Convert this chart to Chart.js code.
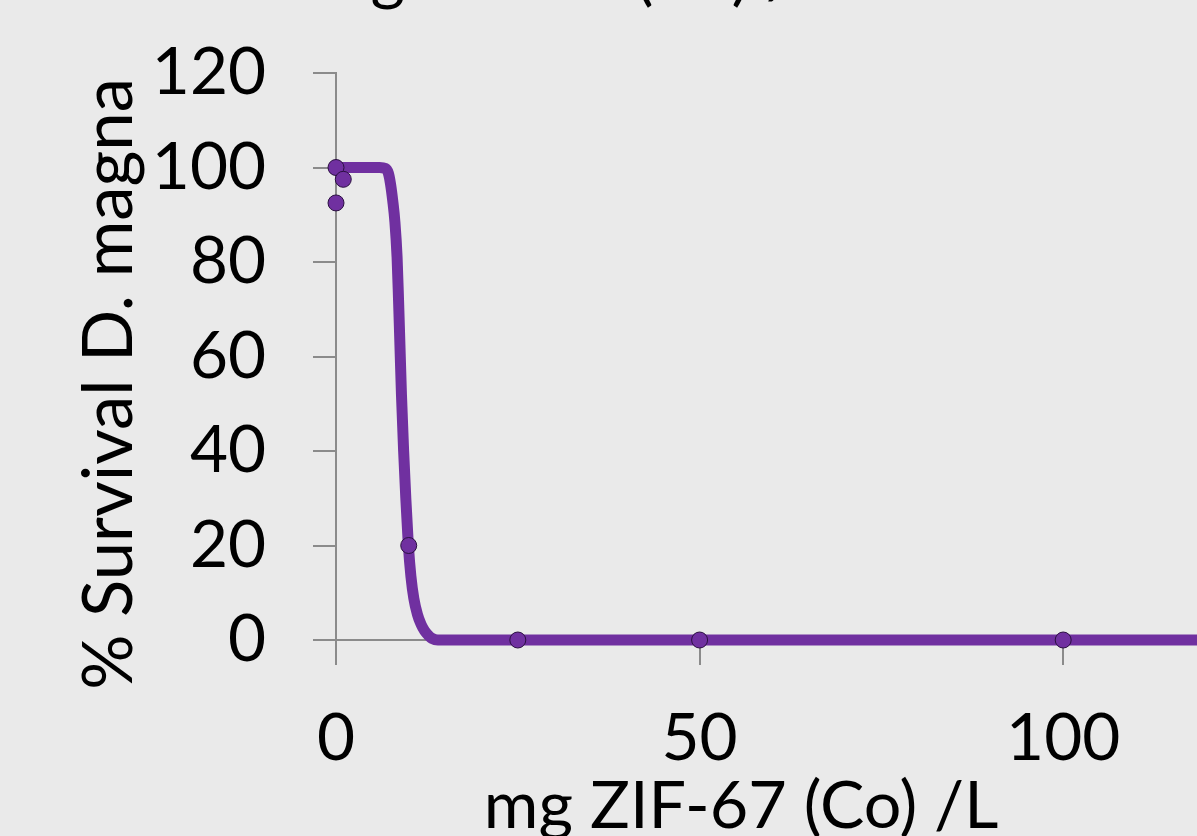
<!DOCTYPE html>
<html>
<head>
<meta charset="utf-8">
<script src="https://cdn.jsdelivr.net/npm/chart.js@4.4.1/dist/chart.umd.min.js"></script>
<style>
html, body { margin: 0; padding: 0; background: #EAEAEA; overflow: hidden; width: 1197px; height: 836px; }
#c { position: absolute; left: 0; display: block; }
</style>
</head>
<body>
<canvas id="c"></canvas>
<script>
// ---------------- data ----------------
const chartTitle = 'mg ZIF-67 (Co) /L';
const xAxisTitle = 'mg ZIF-67 (Co) /L';
const yAxisTitle = '% Survival D. magna';
const xTickValues = [0, 50, 100];
const yTickValues = [0, 20, 40, 60, 80, 100, 120];
const xRange = [0, 118.4];
const yRange = [0, 120];

// observed survival
const obsDose = [0, 0, 1, 10, 25, 50, 100];
const obsSurvival = [100, 92.5, 97.5, 20, 0, 0, 0];

// fitted dose-response curve
const fitDose = [0, 3, 6, 6.8, 7.2, 7.5, 7.8, 8.1, 8.4, 8.6, 8.8, 9, 9.3, 9.6, 9.95, 10.3, 10.7, 11.2, 11.7, 12.2, 12.7, 13.2, 14, 16, 20, 40, 80, 120];
const fitSurvival = [100, 100, 100, 99.8, 98.8, 96.5, 93, 88.5, 81, 72, 62, 52, 40, 30, 20, 13.5, 8.8, 5.4, 3.3, 1.9, 1, 0.35, 0, 0, 0, 0, 0, 0];

// ---------------- styling / layout helpers ----------------
const FAMILY = "Lato, 'Open Sans', sans-serif";
const PURPLE = '#7030A0';
const AXIS = '#8B8B8B';
const mctx = document.createElement('canvas').getContext('2d');
function measure(text, size, baseline, align) {
  mctx.font = size + 'px ' + FAMILY;
  mctx.textBaseline = baseline || 'alphabetic';
  mctx.textAlign = align || 'left';
  return mctx.measureText(text);
}
function fitSize(text, ink) {
  const m = measure(text, 100);
  return 100 * ink / (m.actualBoundingBoxLeft + m.actualBoundingBoxRight);
}
const baseOff = s => measure('H', s, 'middle').actualBoundingBoxDescent;

const tickSize = fitSize('120', 107);
const xTitleSize = fitSize(xAxisTitle, 509);
const yTitleSize = fitSize(yAxisTitle, 605);
const topTitleSize = xTitleSize;
const LH = 1.2;

// canvas is shifted up so the chart title is mostly hidden (as in the reference)
const lhTop = topTitleSize * LH;
const T = Math.round(lhTop / 2 + baseOff(topTitleSize) + 2);
const topTitlePad = 73 + T - lhTop;

const lhTick = tickSize * LH;
const m0 = measure('0', tickSize, 'middle');
const digitCenterOff = (m0.actualBoundingBoxDescent - m0.actualBoundingBoxAscent) / 2;
const xTickPad = 736.4 - 640 - 25 - lhTick / 2 - digitCenterOff;
const yTickPad = 48 + measure('120', tickSize, 'middle', 'right').actualBoundingBoxRight;

const lhX = xTitleSize * LH;
const xTitlePad = 836 - 827.7 - lhX / 2 + baseOff(xTitleSize);
const spaceW = measure(' ', xTitleSize).width;
const xTitleText = xAxisTitle + ' '.repeat(Math.round(56 / spaceW));
const topTitleText = chartTitle + ' '.repeat(Math.round(50 / spaceW));

const canvas = document.getElementById('c');
canvas.width = 1197;
canvas.height = 836 + T;
canvas.style.top = (-T) + 'px';

const yTitlePlugin = {
  id: 'yTitle',
  afterDraw(chart) {
    const ctx = chart.ctx, a = chart.chartArea;
    const m = measure(yAxisTitle, yTitleSize, 'alphabetic', 'center');
    const inkLocal = (m.actualBoundingBoxRight - m.actualBoundingBoxLeft) / 2;
    ctx.save();
    ctx.font = yTitleSize + 'px ' + FAMILY;
    ctx.fillStyle = '#000';
    ctx.textAlign = 'center';
    ctx.textBaseline = 'alphabetic';
    ctx.translate(132, (a.top + a.bottom) / 2 + 28 + inkLocal);
    ctx.rotate(-Math.PI / 2);
    ctx.fillText(yAxisTitle, 0, 0);
    ctx.restore();
  }
};

const obsPoints = obsDose.map((x, i) => ({ x: x, y: obsSurvival[i] }));
const fitPoints = fitDose.map((x, i) => ({ x: x, y: fitSurvival[i] }));

new Chart(canvas, {
  type: 'scatter',
  data: {
    datasets: [
      {
        label: 'Observed',
        data: obsPoints,
        order: 0,
        clip: false,
        pointRadius: 8,
        pointHoverRadius: 8,
        backgroundColor: PURPLE,
        borderColor: '#2A0F40',
        borderWidth: 1
      },
      {
        label: 'Fit',
        data: fitPoints,
        order: 1,
        clip: false,
        showLine: true,
        pointRadius: 0,
        pointHoverRadius: 0,
        borderColor: PURPLE,
        backgroundColor: PURPLE,
        borderWidth: 11,
        cubicInterpolationMode: 'monotone'
      }
    ]
  },
  options: {
    responsive: false,
    animation: false,
    devicePixelRatio: 1,
    layout: { autoPadding: false, padding: { left: 0, right: 0, top: 0, bottom: 0 } },
    plugins: {
      legend: { display: false },
      tooltip: { enabled: false },
      title: {
        display: true,
        text: topTitleText,
        color: '#000',
        font: { family: FAMILY, size: topTitleSize, weight: 'normal', lineHeight: LH },
        padding: { top: 0, bottom: topTitlePad }
      }
    },
    scales: {
      x: {
        type: 'linear',
        min: xRange[0],
        max: xRange[1],
        afterBuildTicks: s => { s.ticks = xTickValues.map(v => ({ value: v })); },
        afterFit: s => { s.height = 196; },
        grid: { drawOnChartArea: false, drawTicks: true, tickLength: 25, color: AXIS, lineWidth: 2 },
        border: { display: true, color: AXIS, width: 2 },
        ticks: {
          color: '#000',
          padding: xTickPad,
          maxRotation: 0,
          font: { family: FAMILY, size: tickSize, lineHeight: LH }
        },
        title: {
          display: true,
          text: xTitleText,
          color: '#000',
          font: { family: FAMILY, size: xTitleSize, lineHeight: LH },
          padding: { top: 0, bottom: xTitlePad }
        }
      },
      y: {
        type: 'linear',
        min: yRange[0],
        max: yRange[1],
        afterBuildTicks: s => { s.ticks = yTickValues.map(v => ({ value: v })); },
        afterFit: s => { s.width = 336; },
        grid: { drawOnChartArea: false, drawTicks: true, tickLength: 23, color: AXIS, lineWidth: 2 },
        border: { display: true, color: AXIS, width: 2 },
        ticks: {
          color: '#000',
          padding: yTickPad,
          font: { family: FAMILY, size: tickSize, lineHeight: LH }
        },
        title: { display: false }
      }
    }
  },
  plugins: [yTitlePlugin]
});
</script>
</body>
</html>
